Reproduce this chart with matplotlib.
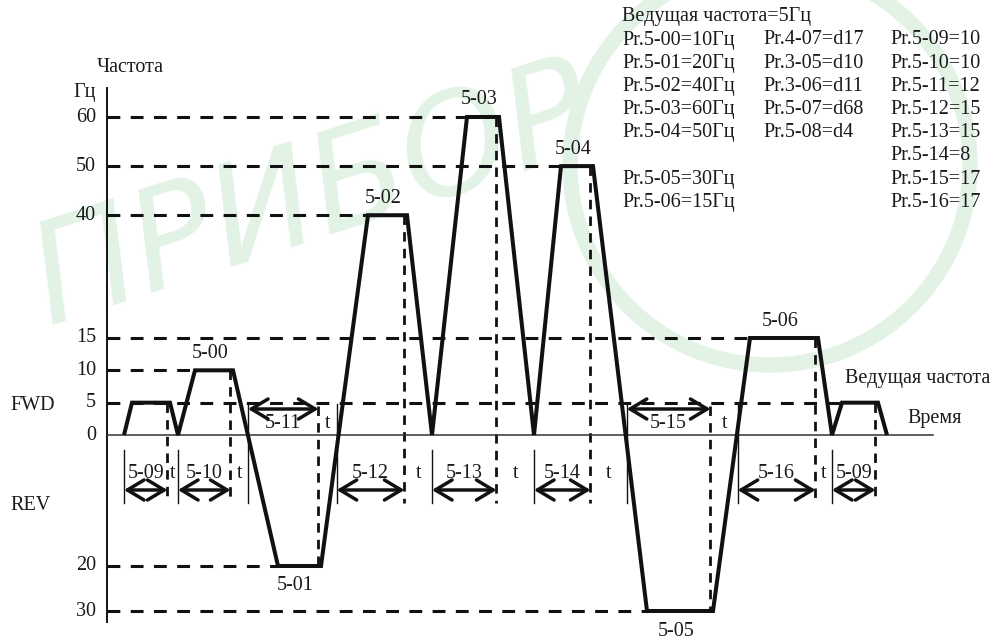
import numpy as np
import matplotlib.pyplot as plt
from matplotlib.patches import FancyArrowPatch, Ellipse

# ------------------------------------------------------------
# multi-step speed profile (time in ticks, frequency in Hz, REV < 0)
# ------------------------------------------------------------
profile_t = [17, 25, 63, 71, 88, 126, 171, 214, 261, 300, 325, 360, 392,
             427, 454, 486, 540, 606, 643, 711, 725, 735, 771, 780]
profile_hz = [0, 5, 5, 0, 10, 10, -20, -20, 40, 40, 0, 60, 60,
              0, 50, 50, -30, -30, 15, 15, 0, 5, 5, 0]

fwd_levels = [60, 50, 40, 15, 10, 5, 0]
rev_levels = [-20, -30]

step_labels = ["", "5-00", "5-01", "5-02", "5-03", "5-04", "5-05", "5-06",
               "Ведущая частота"]
time_labels = ["5-09", "5-10", "5-11", "5-12", "5-13", "5-14", "5-15",
               "5-16", "5-09"]

header = "Ведущая частота=5Гц"
col1 = ["Pr.5-00=10Гц", "Pr.5-01=20Гц", "Pr.5-02=40Гц", "Pr.5-03=60Гц",
        "Pr.5-04=50Гц", "", "Pr.5-05=30Гц", "Pr.5-06=15Гц"]
col2 = ["Pr.4-07=d17", "Pr.3-05=d10", "Pr.3-06=d11", "Pr.5-07=d68",
        "Pr.5-08=d4", "", "", ""]
col3 = ["Pr.5-09=10", "Pr.5-10=10", "Pr.5-11=12", "Pr.5-12=15",
        "Pr.5-13=15", "Pr.5-14=8", "Pr.5-15=17", "Pr.5-16=17"]

# ------------------------------------------------------------
# layout
# ------------------------------------------------------------
W, H = 1002, 641
X0 = 107                       # pixel column of the frequency axis
# diagram is not to scale: low speeds get more room
SCALE_HZ = [-200, -30, -20, 0, 15, 60, 300]
SCALE_PX = [1376, 611, 566, 435, 338, 117, -1059]


def fwd(h):
    return -np.interp(np.asarray(h, dtype=float), SCALE_HZ, SCALE_PX)


def inv(v):
    return np.interp(-np.asarray(v, dtype=float), SCALE_PX[::-1], SCALE_HZ[::-1])


def row(px):
    # frequency value sitting on a given pixel row
    return float(inv(-px))


FONT = dict(family="Liberation Serif", size=14.5, color="#1a1a1a")
BLACK = "#111111"
GREEN = "#e2f3e5"
DASH_H = (0, (4.2, 3.4))
DASH_V = (0, (3.4, 2.6))
INSET = 2.5                    # dashed marker sits just inside plateau end

fig = plt.figure(figsize=(W / 100, H / 100), dpi=100)
ax = fig.add_axes([0, 0, 1, 1])
ax.set_yscale("function", functions=(fwd, inv))
ax.set_xlim(-X0, W - X0)
ax.set_ylim(row(H), row(0))
ax.axis("off")

# faint watermark behind everything
ax.text(-58, row(325), "ПРИБОР", fontsize=100, fontstyle="italic",
        color=GREEN, rotation=18, ha="left", va="baseline",
        rotation_mode="anchor", zorder=0, family="DejaVu Sans")
ax.add_patch(Ellipse((770 / W, 1 - 165 / H), 400 / W, 400 / H,
                     transform=ax.transAxes, fill=False, ec=GREEN, lw=11,
                     zorder=0))

# axes
ax.plot([0, 0], [row(88), row(622)], color=BLACK, lw=1.4, zorder=3)
ax.plot([0, 826], [0, 0], color="#333333", lw=1.1, zorder=3)

# plateaus: (index, start, end, level)
plateaus = [(i, profile_t[i], profile_t[i + 1], profile_hz[i])
            for i in range(len(profile_t) - 1)
            if profile_hz[i] == profile_hz[i + 1] != 0]

# horizontal dashed guides run up to the last plateau of each level
for lv in fwd_levels[:-1] + rev_levels:
    end = max(p[1] for p in plateaus if p[3] == lv)
    ax.plot([0, end], [lv, lv], color=BLACK, lw=2.2, ls=DASH_H, zorder=2)

for lv in fwd_levels + rev_levels:
    ax.text(-11, lv, str(abs(lv)), ha="right", va="center", **FONT)

ax.text(-11, row(93), "Гц", ha="right", va="center", **FONT)
ax.text(23, row(67), "Частота", ha="center", va="center", **FONT)
ax.text(-97, row(405), "FWD", ha="left", va="center", **FONT)
ax.text(-97, row(505), "REV", ha="left", va="center", **FONT)
ax.text(800, row(418), "Время", ha="left", va="center", **FONT)

# the profile itself
ax.plot(profile_t, profile_hz, color=BLACK, lw=2.9, zorder=4,
        solid_joinstyle="miter", solid_capstyle="butt")


def start_of(i):
    # time where the run towards plateau i leaves (or crosses) zero
    t_a, f_a = profile_t[i - 1], profile_hz[i - 1]
    t_b, f_b = profile_t[i], profile_hz[i]
    if f_a == 0:
        return t_a, True
    return t_a + (t_b - t_a) * (0 - f_a) / (f_b - f_a), False


starts = [start_of(p[0]) for p in plateaus]

for k, (i, t1, t2, lv) in enumerate(plateaus):
    t0, from_zero = starts[k]
    te = t2 - INSET

    # solid marker at interval start
    top = row(450) if from_zero else row(404)
    ax.plot([t0, t0], [top, row(503)], color=BLACK, lw=1.0, zorder=3)

    if lv > 0:
        ax.plot([te, te], [lv, row(503)], color=BLACK, lw=2.0, ls=DASH_V,
                zorder=2)
        y_arr, y_lab = row(490), row(473)
    else:
        ax.plot([te, te], [row(406), lv], color=BLACK, lw=2.0, ls=DASH_V,
                zorder=2)
        y_arr, y_lab = row(409), row(423)

    ax.add_patch(FancyArrowPatch((t0, y_arr), (te, y_arr),
                                 arrowstyle="<->,head_length=0.6,head_width=0.36",
                                 mutation_scale=20, lw=2.5, color=BLACK,
                                 shrinkA=0, shrinkB=0, zorder=3))
    ax.text((t0 + te) / 2, y_lab, time_labels[k], ha="center", va="center",
            **FONT)
    if k + 1 < len(plateaus):
        ax.text((te + starts[k + 1][0]) / 2, y_lab, "t", ha="center",
                va="center", **FONT)

    # step name over / under the plateau
    name = step_labels[k]
    if not name:
        continue
    if k == len(plateaus) - 1:
        ax.annotate(name, (t1, lv), xytext=(3, 24), textcoords="offset pixels",
                    ha="left", va="center", **FONT)
    elif lv > 0:
        ax.annotate(name, ((t1 + t2) / 2, lv), xytext=(-4, 17),
                    textcoords="offset pixels", ha="center", va="center",
                    **FONT)
    else:
        ax.annotate(name, ((t1 + t2) / 2, lv), xytext=(-4, -20),
                    textcoords="offset pixels", ha="center", va="center",
                    **FONT)

# parameter listing
ax.text(515, row(17), header, ha="left", va="center", **FONT)
for r in range(len(col3)):
    y = row(40 + 23.2 * r)
    for x, col in zip([515, 656, 783], [col1, col2, col3]):
        if col[r]:
            ax.text(x, y, col[r], ha="left", va="center", **FONT)

fig.savefig("out.png", dpi=100, facecolor="white")
